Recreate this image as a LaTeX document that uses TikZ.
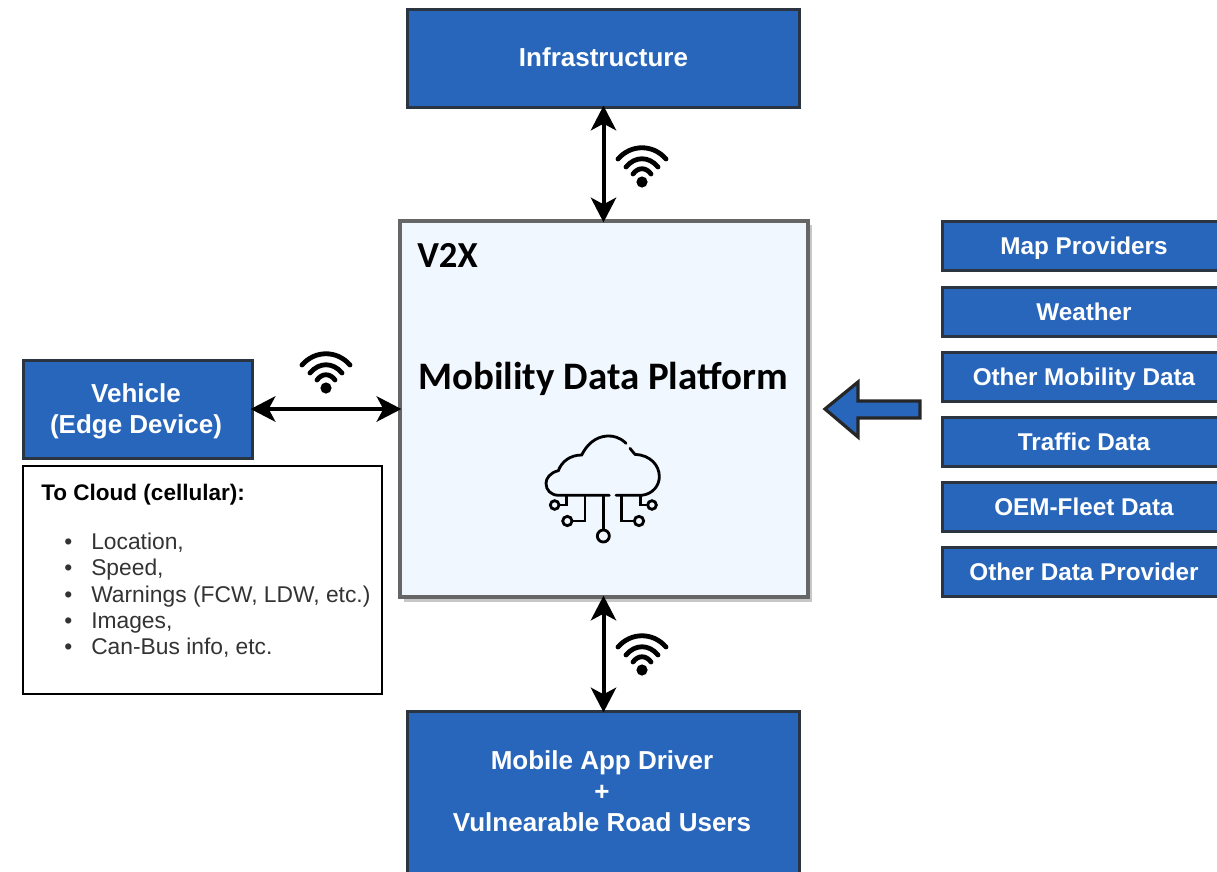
\documentclass[tikz,border=0pt]{standalone}
\usepackage{fontspec}
\setmainfont{Liberation Sans}
\newfontfamily\calfont{Carlito}
\usetikzlibrary{arrows.meta}
\definecolor{boxblue}{HTML}{2866BB}
\definecolor{boxline}{HTML}{2B3542}
\definecolor{panelfill}{HTML}{F0F7FF}
\definecolor{panelline}{HTML}{666666}
\tikzset{
  x=0.75pt,y=-0.75pt,
  bluebox/.style={draw=boxline,fill=boxblue,line width=2.25pt,inner sep=0pt,outer sep=0pt,text=white,font=\fontsize{19.5pt}{23.2pt}\selectfont\bfseries,align=center,anchor=north west},
  linkarrow/.style={line width=3pt,{Stealth[length=18.5pt,width=19pt,inset=5pt]}-{Stealth[length=18.5pt,width=19pt,inset=5pt]},shorten <=-1pt,shorten >=-1pt},
  iconline/.style={line width=3.6pt,line cap=round,black},
  cloudline/.style={line width=2.1pt,line cap=butt,black},
  wifi/.pic={
    \fill[black] (0,0) circle (5.6);
    \draw[iconline] (-9,-8) .. controls (-4,-15) and (4,-15) .. (9,-8);
    \draw[iconline] (-16,-15) .. controls (-7,-26) and (7,-26) .. (16,-15);
    \draw[iconline] (-24,-23) .. controls (-11,-38) and (11,-38) .. (24,-23);
  }
}
\begin{document}
\begin{tikzpicture}
\useasboundingbox (0,0) rectangle (1217,871);
% shadow of the platform
\fill[black!22] (404,225) rectangle (812,602);
\node[draw=panelline,fill=panelfill,line width=3pt,inner sep=0pt,outer sep=0pt,minimum width=306pt,minimum height=282pt,anchor=north west] (platform) at (400,221) {};
\node[anchor=west,inner sep=0pt,font=\calfont\fontsize{27.5pt}{30pt}\selectfont\bfseries] (v2x) at (417,255) {V2X};
\node[inner sep=0pt,font=\calfont\fontsize{29.2pt}{32pt}\selectfont\bfseries] (mdp) at (603,379) {Mobility Data Platform};

\node[bluebox,minimum width=294pt,minimum height=73.5pt,text depth=1.5pt] (infra) at (407.5,9) {Infrastructure};
\node[bluebox,minimum width=294pt,minimum height=127.5pt] (mobile) at (407.5,711) {};
\node[inner sep=0pt,text=white,align=center,font=\fontsize{19.5pt}{23.2pt}\selectfont\bfseries] (mobiletext) at (602,791) {Mobile App Driver\\+\\Vulnearable Road Users};
\node[bluebox,minimum width=171.75pt,minimum height=73.5pt] (vehicle) at (23,360) {};
\node[inner sep=0pt,text=white,align=center,font=\fontsize{19.5pt}{23.2pt}\selectfont\bfseries] (vehicletext) at (136,411) {Vehicle\\(Edge Device)};

\node[draw=black,fill=white,line width=0.9pt,inner sep=0pt,outer sep=0pt,minimum width=269.25pt,minimum height=171pt,anchor=north west] (cloudbox) at (23,466) {};
\node[anchor=west,inner sep=0pt,font=\fontsize{16.9pt}{20pt}\selectfont\bfseries] (cloudtitle) at (41,495) {To Cloud (cellular):};
\node[anchor=north west,inner sep=0pt,align=left,text=black!80,font=\fontsize{17.1pt}{19.6pt}\selectfont] (cloudlist) at (64,533) {%
\makebox[20.25pt][l]{•}Location,\\
\makebox[20.25pt][l]{•}Speed,\\
\makebox[20.25pt][l]{•}Warnings (FCW, LDW, etc.)\\
\makebox[20.25pt][l]{•}Images,\\
\makebox[20.25pt][l]{•}Can-Bus info, etc.};

\foreach \nm/\yy/\tx in {map/221/Map Providers,weather/287/Weather,mobility/352/Other Mobility Data,traffic/417/Traffic Data,oem/482/OEM-Fleet Data,other/547/Other Data Provider}{
  \node[bluebox,minimum width=213pt,minimum height=36.75pt,font=\fontsize{18.2pt}{21pt}\selectfont\bfseries] (\nm) at (942,\yy) {\strut\raisebox{-2.2pt}{\tx}};
}

\draw[linkarrow] (infra.south) -- (infra.south |- platform.north);
\draw[linkarrow] (mobile.north) -- (mobile.north |- platform.south);
\draw[linkarrow] (vehicle.east) -- (vehicle.east -| platform.west);

\pic at (642,182) {wifi};
\pic at (326,388) {wifi};
\pic at (642,670) {wifi};

% feed arrow
\draw[fill=boxblue,draw=black!85,line width=2.4pt,line join=miter]
  (825,409) -- (858,382) -- (858,401) -- (920,401) -- (920,418) -- (858,418) -- (858,437) -- cycle;

% cloud icon
\begin{scope}[shift={(520,420)},x=0.25pt,y=-0.25pt]
\draw[cloudline,line cap=round] (318,70) .. controls (300,52) and (280,47) .. (262,48)
  .. controls (225,50) and (200,75) .. (185,105)
  .. controls (150,105) and (125,125) .. (115,152)
  .. controls (90,158) and (78,175) .. (78,190)
  .. controls (78,210) and (92,225) .. (115,226) -- (268,226);
\draw[cloudline,line cap=round] (288,226) -- (365,226)
  .. controls (400,222) and (418,195) .. (418,170)
  .. controls (418,135) and (390,105) .. (345,103)
  .. controls (340,97) and (335,92) .. (330,85);
\draw[cloudline] (140,226) -- (140,255) -- (118,255);
\draw[cloudline] (104,255) circle (13);
\draw[cloudline] (195,226) -- (195,303) -- (156,303);
\draw[cloudline] (142,303) circle (14);
\draw[cloudline] (250,226) -- (250,330);
\draw[cloudline] (250,348) circle (18);
\draw[cloudline] (305,226) -- (305,303) -- (343,303);
\draw[cloudline] (357,303) circle (14);
\draw[cloudline] (362,226) -- (362,255) -- (383,255);
\draw[cloudline] (396,255) circle (13);
\end{scope}
\end{tikzpicture}
\end{document}
